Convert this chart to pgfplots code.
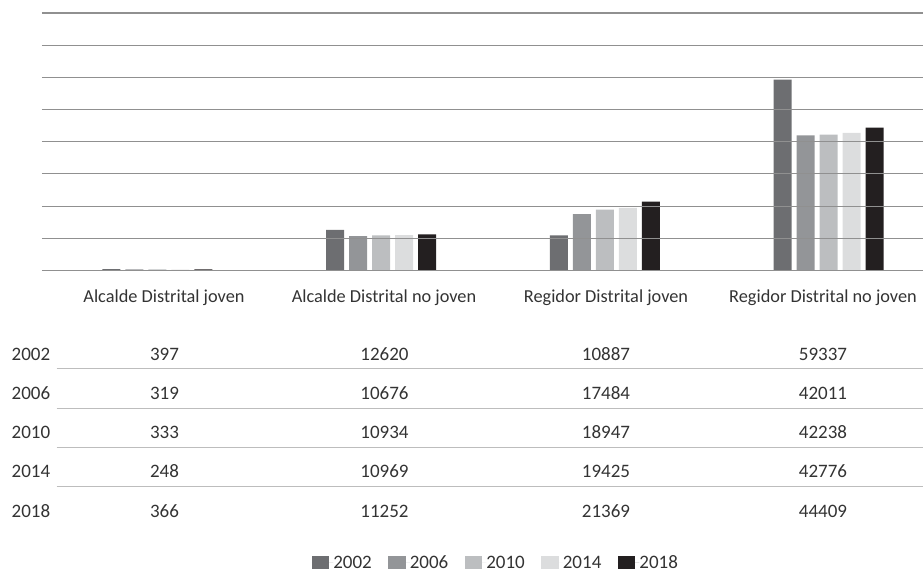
\documentclass[border=0pt]{standalone}
\usepackage{pgfplots}
\usepackage{pgfplotstable}
\pgfplotsset{compat=1.18}
\usepackage{fontspec}
\setmainfont{Carlito}

\definecolor{cA}{HTML}{6D6E71}
\definecolor{cB}{HTML}{939598}
\definecolor{cC}{HTML}{BCBEC0}
\definecolor{cD}{HTML}{DCDDDE}
\definecolor{cE}{HTML}{231F20}
\definecolor{gridc}{HTML}{909090}
\definecolor{rulec}{HTML}{BDBDBD}
\definecolor{txt}{HTML}{333333}

% candidates per category (rows) and election year (columns)
\pgfplotstableread{
cat y2002 y2006 y2010 y2014 y2018
0   397   319   333   248   366
1   12620 10676 10934 10969 11252
2   10887 17484 18947 19425 21369
3   59337 42011 42238 42776 44409
}\data

\begin{document}
\begin{tikzpicture}
\useasboundingbox (0pt,0pt) rectangle (923pt,571pt);
\begin{axis}[
  at={(42pt,300.5pt)}, anchor=south west,
  scale only axis, width=881pt, height=257.5pt,
  xmin=-0.5152, xmax=3.4213, ymin=0, ymax=80000,
  ybar=5pt, bar width=18pt,
  axis line style={draw=none},
  xtick=\empty,
  ytick={0,10000,...,80000}, yticklabels={},
  scaled y ticks=false,
  major tick length=0pt,
  ymajorgrids, grid style={gridc, line width=1.1pt},
  axis on top, clip=false,
  legend columns=5,
  legend image code/.code={%
    \path (0pt,0pt) -- (21.5pt,0pt);
    \fill[#1, draw=none] (0pt,-6.3pt) rectangle (17.5pt,6.3pt);},
  legend style={at={(axis description cs:0.514,-1.134)}, anchor=center,
    draw=none, fill=none, inner sep=0pt,
    font=\fontsize{19}{22}\selectfont, text=txt,
    nodes={inner sep=0pt, text height=12.2pt, text depth=0pt},
    /tikz/every even column/.append style={column sep=16.5pt}},
]
\addplot[fill=cA, draw=none] table[x=cat, y=y2002]{\data};
\addplot[fill=cB, draw=none] table[x=cat, y=y2006]{\data};
\addplot[fill=cC, draw=none] table[x=cat, y=y2010]{\data};
\addplot[fill=cD, draw=none] table[x=cat, y=y2014]{\data};
\addplot[fill=cE, draw=none] table[x=cat, y=y2018]{\data};
\legend{2002,2006,2010,2014,2018}
\end{axis}

% category names under the bars
\begin{scope}[every node/.style={anchor=base, text=txt, inner sep=0pt, font=\fontsize{18.3}{22}\selectfont}]
\node at (164pt,269pt) {Alcalde Distrital joven};
\node at (384pt,269pt) {Alcalde Distrital no joven};
\node at (606pt,269pt) {Regidor Distrital joven};
\node at (823pt,269pt) {Regidor Distrital no joven};
\end{scope}

% data table
\foreach \yy in {202.7,163,123.7,84.3}
  \draw[rulec, line width=1pt] (56.7pt,\yy pt) -- (923pt,\yy pt);
\foreach \col/\yr/\base [count=\r from 0] in {y2002/2002/211, y2006/2006/171.75, y2010/2010/132.5, y2014/2014/93.25, y2018/2018/54}{
  \node[anchor=base west, text=txt, inner sep=0pt, font=\fontsize{19}{22}\selectfont] at (11.5pt,\base pt) {\yr};
  \foreach \cx [count=\c from 0] in {164.5,384.5,606,823}{
    \pgfplotstablegetelem{\c}{\col}\of\data
    \node[anchor=base, text=txt, inner sep=0pt, font=\fontsize{19}{22}\selectfont] at (\cx pt,\base pt) {\pgfplotsretval};
  }
}
\end{tikzpicture}
\end{document}
